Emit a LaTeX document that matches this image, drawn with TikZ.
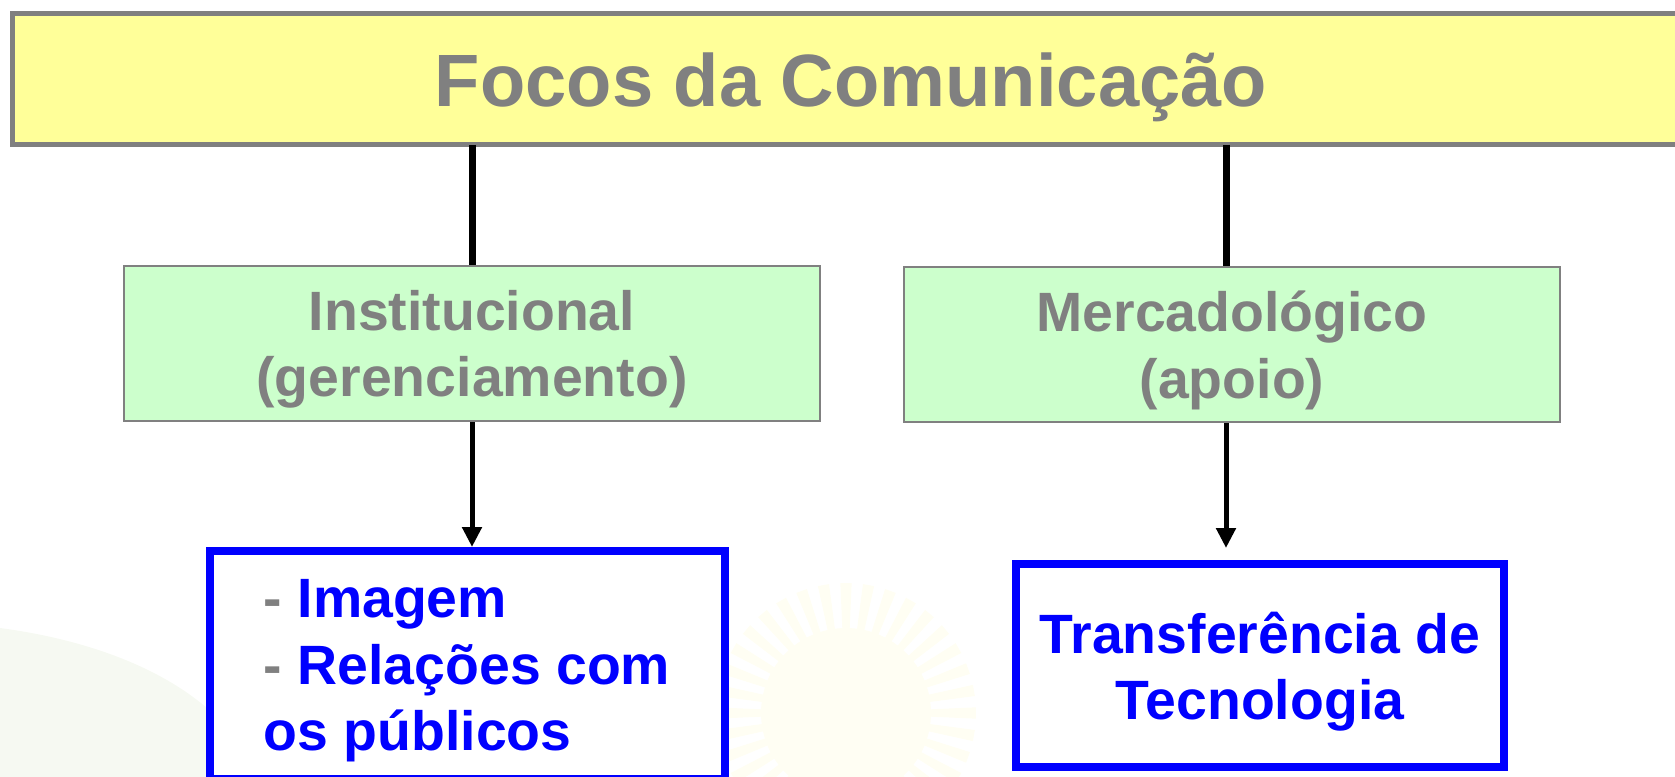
\documentclass[tikz,border=0pt]{standalone}
\usepackage{fontspec}
\setmainfont{Liberation Sans}
\usetikzlibrary{arrows.meta}

\definecolor{titlegray}{RGB}{128,128,128}
\definecolor{boxyellow}{RGB}{255,255,153}
\definecolor{boxgreen}{RGB}{204,255,204}
\definecolor{sunyellow}{RGB}{255,254,243}
\definecolor{swoosh}{RGB}{246,249,242}

\tikzset{
  titlebox/.style={draw=titlegray, fill=boxyellow, line width=3.75pt, text=titlegray,
    font=\fontsize{55.6}{66.7}\selectfont\bfseries, inner sep=0pt, outer sep=0pt, text depth=0pt},
  focusbox/.style={draw=titlegray, fill=boxgreen, line width=1.5pt, text=titlegray,
    font=\fontsize{41.55}{49.95}\selectfont\bfseries, align=center, inner sep=0pt},
  itembox/.style={draw=blue, fill=white, line width=6pt, text=blue,
    font=\fontsize{41.55}{49.95}\selectfont\bfseries, inner sep=0pt},
  stem/.style={line width=5.25pt},
  flow/.style={line width=3.75pt, -{Triangle[length=15pt,width=14.25pt]}},
}

\begin{document}
\begin{tikzpicture}[x=0.75pt,y=0.75pt,yscale=-1,xscale=1]
\useasboundingbox (0,0) rectangle (1675,777);

%faint watermark behind the boxes
\fill[swoosh] (0,628) .. controls (90,640) and (170,670) .. (220,720) -- (220,777) -- (0,777) -- cycle ;
\foreach \a in {0,10,...,350}
  \fill[sunyellow] (846,713) -- +(\a-2.5:130) -- +(\a+2.5:130) -- cycle ;
\fill[sunyellow] (846,713) circle (85) ;

%Boxes
\node[titlebox, minimum width=1258.1pt, minimum height=98.25pt] (focos) at (851,79.5) {Focos da Comunicação};
\node[focusbox, minimum width=522pt, minimum height=116.25pt] (inst) at (472,343.5) {Institucional\\\smash{(gerenciamento)}};
\node[focusbox, minimum width=492pt, minimum height=116.25pt] (merc) at (1232,344.5) {Mercadológico\\\smash{(apoio)}};
\node[itembox, minimum width=386.25pt, minimum height=171pt, align=left] (pub) at (467,665)
  {{\color{titlegray}-} Imagem\\{\color{titlegray}-} Relações com\\\smash{os públicos}};
\node[itembox, minimum width=366pt, minimum height=152.6pt, align=center] (tech) at (1260,665.75)
  {Transferência de\\\smash{Tecnologia}};

%Connectors
\coordinate (mx) at (1226,0);
\draw[stem] (inst.north |- focos.south) -- (inst.north) ;
\draw[stem] (mx |- focos.south) -- (mx |- merc.north) ;
\draw[flow] (inst.south) -- (inst.south |- pub.north) ;
\draw[flow, shorten >=9pt] (mx |- merc.south) -- (mx |- tech.north) ;

\end{tikzpicture}
\end{document}
